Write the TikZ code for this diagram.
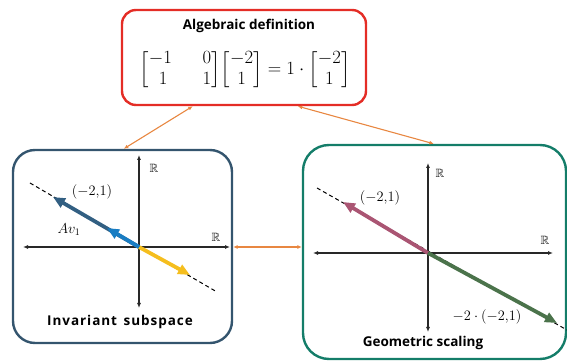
\documentclass[tikz,border=0pt]{standalone}
\usepackage{amsmath,amssymb}
\usepackage{fontspec}
\setsansfont{Open Sans}
\usetikzlibrary{arrows.meta}

\definecolor{boxred}{RGB}{228,45,38}
\definecolor{boxblue}{RGB}{52,85,110}
\definecolor{boxteal}{RGB}{20,125,105}
\definecolor{linkorange}{RGB}{232,135,65}
\definecolor{axisgray}{RGB}{40,40,40}
\definecolor{vecdark}{RGB}{50,95,130}
\definecolor{veclight}{RGB}{25,125,195}
\definecolor{vecyellow}{RGB}{245,190,30}
\definecolor{vecpink}{RGB}{170,85,115}
\definecolor{vecgreen}{RGB}{75,115,75}

\begin{document}
\begin{tikzpicture}[
  x=1pt, y=1pt,
  every node/.style={inner sep=0pt},
  panel/.style={draw, line width=2.4pt, rounded corners=22pt},
  link/.style={linkorange, line width=1.1pt,
    {Latex[length=4.5pt,width=4pt]}-{Latex[length=4.5pt,width=4pt]}},
  axis/.style={axisgray, line width=1.2pt,
    {Latex[length=5pt,width=4pt]}-{Latex[length=5pt,width=4pt]}},
  vec/.style={line width=3.8pt, -{Triangle[length=12pt,width=10pt]}},
  trace/.style={black, line width=1pt, dash pattern=on 4pt off 3pt},
  caption/.style={font=\sffamily\bfseries\fontsize{13.5}{16}\selectfont},
  widecaption/.style={font=\sffamily\bfseries\fontsize{13.5}{16}\selectfont\addfontfeatures{LetterSpace=7}},
  lbl/.style={font=\fontsize{14.5}{17}\selectfont},
  reals/.style={font=\fontsize{12}{14}\selectfont},
]
\useasboundingbox (0,0) rectangle (567,361);

\node[panel, draw=boxred, rounded corners=14pt,
      minimum width=244, minimum height=95] (alg) at (244,303.5) {};
\node[panel, draw=boxblue, minimum width=219, minimum height=193] (inv) at (122.5,114.5) {};
\node[panel, draw=boxteal, rounded corners=26pt,
      minimum width=263, minimum height=214] (geo) at (434.5,109) {};

\node[caption] (algtitle) at (249,335) {Algebraic definition};
\node[font=\fontsize{18.5}{22}\selectfont, scale=1.08, transform shape] (algeq) at (245,291)
  {\renewcommand\arraystretch{0.85}\setlength\arraycolsep{7.5pt}%
   \delimitershortfall=12pt \delimiterfactor=700
   $\begin{bmatrix}-1 & \phantom{-}0\\ \;1 & \phantom{-}1\end{bmatrix}\!\begin{bmatrix}-2\\ 1\end{bmatrix} = 1\cdot\begin{bmatrix}-2\\ 1\end{bmatrix}$};

% invariant subspace
\coordinate (o1) at (139,114);
\draw[axis] (23,114) -- (230,114);
\draw[axis] (139,53) -- (139,206);
\draw[trace] (30,178) -- (217,69);
\draw[vec, vecyellow] (o1) -- (190,86);
\draw[vec, vecdark] (o1) -- (53,164);
\draw[vec, veclight] (o1) -- (107,133);
\node[reals] (r1v) at (154,193) {$\mathbb{R}$};
\node[reals] (r1h) at (216,124) {$\mathbb{R}$};
\node[lbl] (v1lbl) at (92,169) {$(-2{,}1)$};
\node[lbl] (av1) at (69,131) {$Av_1$};
\node[widecaption] (invcap) at (120,39) {Invariant\, subspace};

% geometric scaling
\coordinate (o2) at (428,108);
\draw[axis] (313,108) -- (553,108);
\draw[axis] (428,29) -- (428,198);
\draw[trace] (317,173) -- (567,31);
\draw[vec, vecpink] (o2) -- (343,159);
\draw[vec, vecgreen] (o2) -- (557,38);
\node[reals] (r2v) at (440,188) {$\mathbb{R}$};
\node[reals] (r2h) at (545,121) {$\mathbb{R}$};
\node[lbl] (v2lbl) at (380,163) {$(-2{,}1)$};
\node[lbl] (sclbl) at (487,44) {$-2\cdot(-2{,}1)$};
\node[caption] (geocap) at (423,18) {Geometric scaling};

\draw[link] ([xshift=112]inv.north west) -- ([xshift=72]alg.south west);
\draw[link] ([xshift=177]alg.south west) -- ([xshift=132]geo.north west);
\draw[link] (inv.east |- o1) -- (geo.west |- o1);
\end{tikzpicture}
\end{document}
